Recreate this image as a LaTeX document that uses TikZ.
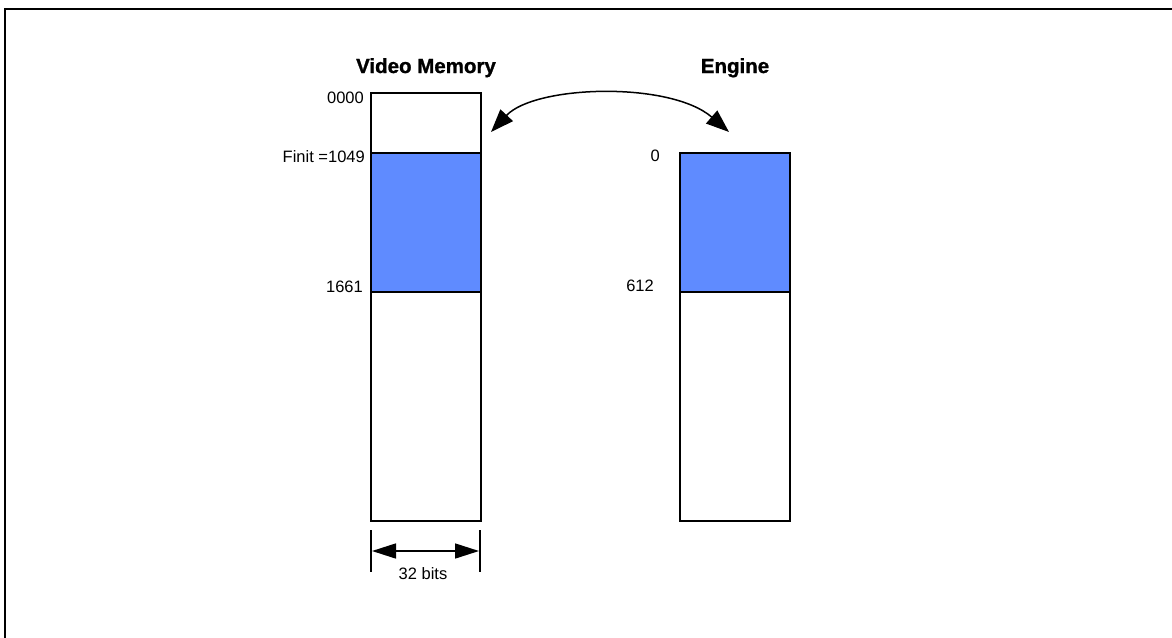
\documentclass[tikz,border=0pt]{standalone}
\usepackage{fontspec}
\setmainfont{Liberation Sans}
\newfontfamily\heavyfont{Liberation Sans Bold}[FakeBold=1.2]
\usetikzlibrary{arrows.meta}
\definecolor{memblue}{RGB}{95,139,255}
\tikzset{
  membox/.style={draw=black, line width=1.6pt, minimum width=110pt, inner sep=0pt, outer sep=0pt},
  lbl/.style={inner sep=0pt, font=\fontsize{16.5}{18}\selectfont},
  ttl/.style={inner sep=0pt, font=\fontsize{20.5}{22}\heavyfont},
}
\begin{document}
\begin{tikzpicture}[x=1pt,y=-1pt]
\useasboundingbox (0,0) rectangle (1172,637);
% partial outer frame
\draw[line width=2.6pt] (1172,9) -- (5,9) -- (5,640);

% Video memory column
\node[membox, fill=white, minimum height=60pt, anchor=north west] (vmtop) at (371,93) {};
\node[membox, fill=memblue, minimum height=139pt, anchor=north west] (vmblue) at (371,153) {};
\node[membox, fill=white, minimum height=229pt, anchor=north west] (vmrest) at (371,292) {};

% Engine column
\node[membox, fill=memblue, minimum height=139pt, anchor=north west] (enblue) at (680,153) {};
\node[membox, fill=white, minimum height=229pt, anchor=north west] (enrest) at (680,292) {};

% titles
\node[ttl, anchor=base] (vmtitle) at (426,73) {Video Memory};
\node[ttl, anchor=base] (entitle) at (735,73) {Engine};

% address labels
\node[lbl, anchor=east] (l0000) at (364,97.5) {0000};
\node[lbl, anchor=east] (lfinit) at (365,157) {Finit =1049};
\node[lbl, anchor=east] (l1661) at (363,286.5) {1661};
\node[lbl, anchor=east] (l0) at (660,156) {0};
\node[lbl, anchor=east] (l612) at (654,286) {612};

% curved double arrow
\coordinate (cl) at (491,132);
\coordinate (cr) at (729,132);
\draw[line width=1.5pt, {Triangle[length=23pt,width=17pt]}-{Triangle[length=23pt,width=17pt]}]
  (cl) .. controls (535,85) and (670,81) .. (cr);

% width dimension
\coordinate (dl) at (371,530);
\coordinate (dr) at (480,530);
\coordinate (dlb) at (371,572);
\coordinate (drb) at (480,572);
\draw[line width=1.5pt] (dl) -- (dlb);
\draw[line width=1.5pt] (dr) -- (drb);
\coordinate (al) at (372,551);
\coordinate (ar) at (479,551);
\draw[line width=1.6pt, {Triangle[length=24pt,width=15pt]}-{Triangle[length=24pt,width=15pt]}] (al) -- (ar);
\node[lbl, anchor=center] (bits) at (423,574) {32 bits};
\end{tikzpicture}
\end{document}
